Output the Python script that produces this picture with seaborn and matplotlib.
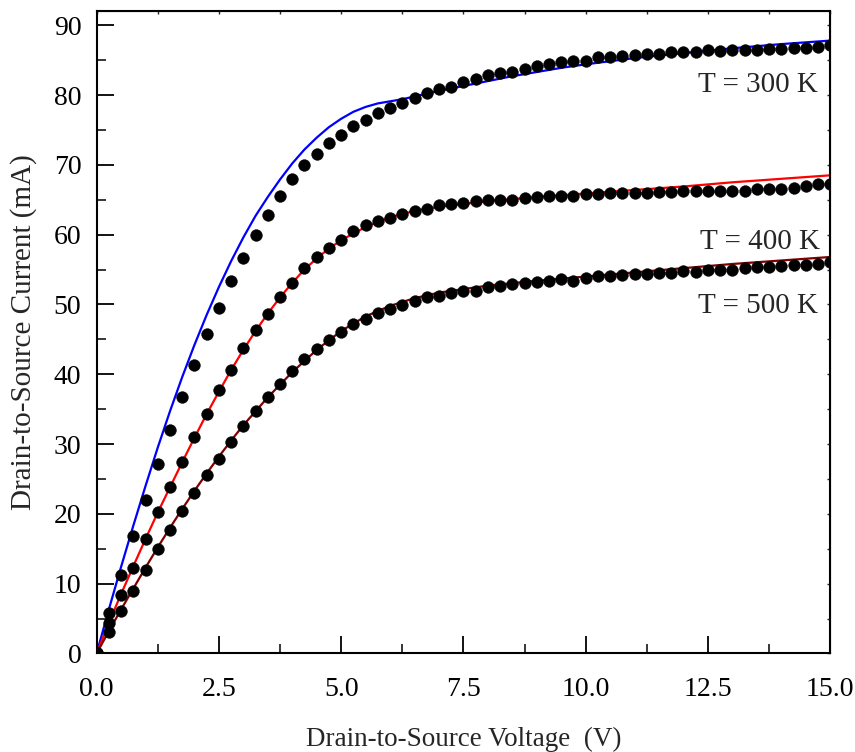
import numpy as np
import pandas as pd
import seaborn as sns
import matplotlib.pyplot as plt
from matplotlib.ticker import MultipleLocator, FormatStrFormatter, NullFormatter

# measured points (dots), sweep 0 -> 15 V in 0.25 V steps
vds_meas = np.arange(0, 15.001, 0.25)

ids_300 = [0.0,
           5.8, 11.3, 16.8, 22.0, 27.1, 32.0, 36.7, 41.3, 45.7, 49.5,
           53.4, 56.7, 59.9, 62.8, 65.5, 68.0, 70.0, 71.6, 73.1, 74.3,
           75.5, 76.4, 77.4, 78.1, 78.9, 79.6, 80.3, 80.9, 81.2, 81.8,
           82.3, 82.9, 83.1, 83.3, 83.8, 84.1, 84.5, 84.7, 84.9, 84.9,
           85.4, 85.4, 85.6, 85.8, 85.9, 85.9, 86.1, 86.1, 86.1, 86.4,
           86.3, 86.4, 86.4, 86.5, 86.6, 86.6, 86.8, 86.8, 86.9, 87.1]

ids_400 = [0.0,
           4.3, 8.4, 12.3, 16.4, 20.2, 23.8, 27.4, 31.0, 34.3, 37.7,
           40.6, 43.7, 46.3, 48.7, 51.1, 53.1, 55.2, 56.8, 58.1, 59.3,
           60.5, 61.4, 62.0, 62.4, 63.0, 63.4, 63.7, 64.2, 64.4, 64.5,
           64.8, 64.9, 65.0, 65.0, 65.3, 65.4, 65.5, 65.6, 65.6, 65.8,
           65.8, 65.9, 65.9, 66.0, 66.0, 66.1, 66.1, 66.2, 66.2, 66.3,
           66.3, 66.3, 66.3, 66.5, 66.5, 66.6, 66.7, 66.9, 67.2, 67.2]

ids_500 = [0.0,
           3.1, 6.1, 9.0, 11.9, 14.9, 17.7, 20.4, 23.0, 25.6, 27.9,
           30.3, 32.6, 34.7, 36.7, 38.6, 40.4, 42.2, 43.6, 44.9, 46.1,
           47.2, 47.9, 48.8, 49.3, 49.9, 50.5, 51.0, 51.2, 51.7, 51.9,
           52.0, 52.5, 52.6, 52.9, 53.1, 53.2, 53.4, 53.7, 53.4, 53.8,
           54.1, 54.1, 54.2, 54.3, 54.4, 54.5, 54.5, 54.8, 54.7, 54.9,
           55.0, 55.0, 55.2, 55.4, 55.4, 55.5, 55.7, 55.7, 55.8, 56.1]

# model curves (solid lines)
vds_300 = [0, 0.25, 0.5, 0.75, 1.0, 1.25, 1.5, 1.75, 2.0, 2.25, 2.5, 2.75, 3.0,
           3.25, 3.5, 3.75, 4.0, 4.25, 4.5, 4.75, 5.0, 5.25, 5.5, 5.75, 6.0,
           6.25, 6.5, 7.0, 7.5, 8.0, 8.5, 9.0, 9.5, 10, 11, 12, 13, 14, 15]
fit_300 = [0, 6.3, 12.4, 18.3, 24.0, 29.5, 34.7, 39.6, 44.2, 48.5, 52.5, 56.2, 59.6,
           62.7, 65.4, 67.9, 70.2, 72.2, 73.9, 75.4, 76.6, 77.6, 78.3, 78.8, 79.1,
           79.4, 79.8, 80.6, 81.3, 82.0, 82.7, 83.3, 83.9, 84.4, 85.3, 86.0, 86.7,
           87.3, 87.8]

vds_400 = [0, 0.25, 0.5, 0.75, 1.0, 1.25, 1.5, 1.75, 2.0, 2.25, 2.5, 2.75, 3.0,
           3.25, 3.5, 3.75, 4.0, 4.25, 4.5, 4.75, 5.0, 5.5, 6.0, 6.5, 7.0, 8.0,
           9.0, 10, 11, 12, 13, 14, 15]
fit_400 = [0, 4.4, 8.5, 12.5, 16.4, 20.2, 23.8, 27.4, 30.9, 34.3, 37.5, 40.6, 43.5,
           46.2, 48.7, 51.0, 53.1, 55.0, 56.6, 58.0, 59.2, 61.1, 62.5, 63.4, 64.0,
           64.8, 65.4, 65.9, 66.4, 66.9, 67.5, 68.0, 68.5]

vds_500 = [0, 0.25, 0.5, 0.75, 1.0, 1.25, 1.5, 1.75, 2.0, 2.25, 2.5, 2.75, 3.0,
           3.5, 4.0, 4.5, 5.0, 5.5, 6.0, 6.5, 7.0, 8.0, 9.0, 10, 11, 12, 13, 14, 15]
fit_500 = [0, 3.2, 6.3, 9.3, 12.3, 15.2, 18.0, 20.7, 23.3, 25.8, 28.2, 30.5, 32.7,
           36.7, 40.3, 43.5, 46.2, 48.3, 49.8, 50.9, 51.7, 52.7, 53.4, 54.0, 54.6,
           55.2, 55.8, 56.3, 56.8]

line_colours = {"300 K": "#0000ff", "400 K": "#ff0000", "500 K": "#800000"}

fit_df = pd.concat([
    pd.DataFrame({"vds": vds_300, "ids": fit_300, "temp": "300 K"}),
    pd.DataFrame({"vds": vds_400, "ids": fit_400, "temp": "400 K"}),
    pd.DataFrame({"vds": vds_500, "ids": fit_500, "temp": "500 K"}),
])
meas_df = pd.concat([
    pd.DataFrame({"vds": vds_meas, "ids": ids_300, "temp": "300 K"}),
    pd.DataFrame({"vds": vds_meas, "ids": ids_400, "temp": "400 K"}),
    pd.DataFrame({"vds": vds_meas, "ids": ids_500, "temp": "500 K"}),
])

sns.set_style("ticks")
plt.rcParams["font.family"] = ["Liberation Serif", "DejaVu Serif"]

fig = plt.figure(figsize=(8.55, 7.52), dpi=100)
ax = fig.add_axes([0.113, 0.131, 0.858, 0.854])

sns.lineplot(data=fit_df, x="vds", y="ids", hue="temp", palette=line_colours,
             estimator=None, sort=False, linewidth=1.6, legend=False, ax=ax, zorder=2)
sns.scatterplot(data=meas_df, x="vds", y="ids", color="black", s=72,
                edgecolor="black", linewidth=0.3, legend=False, ax=ax, zorder=3)

ax.set_xlim(0, 15)
ax.set_ylim(0, 92)
ax.xaxis.set_major_locator(MultipleLocator(2.5))
ax.xaxis.set_minor_locator(MultipleLocator(1.25))
ax.xaxis.set_major_formatter(FormatStrFormatter("%.1f"))
ax.yaxis.set_major_locator(MultipleLocator(10))
ax.yaxis.set_minor_locator(MultipleLocator(5))

ax.tick_params(which="major", direction="in", length=12, width=1.3,
               labelsize=20, colors="black")
ax.tick_params(axis="x", which="major", pad=17)
ax.tick_params(axis="y", which="major", pad=11)
ax.tick_params(which="minor", direction="in", length=6.5, width=1.3)
for s in ax.spines.values():
    s.set_linewidth(1.5)
    s.set_color("black")

# short ticks on top and right
secx = ax.secondary_xaxis("top")
secx.xaxis.set_major_locator(MultipleLocator(1.25))
secx.xaxis.set_major_formatter(NullFormatter())
secx.tick_params(direction="in", length=2.5, width=1.0)
secy = ax.secondary_yaxis("right")
secy.yaxis.set_major_locator(MultipleLocator(5))
secy.yaxis.set_major_formatter(NullFormatter())
secy.tick_params(direction="in", length=2.5, width=1.0)

ax.set_xlabel("Drain-to-Source Voltage  (V)", fontsize=19.5, labelpad=18)
ax.set_ylabel("Drain-to-Source Current (mA)", fontsize=21, labelpad=12)

ax.text(14.75, 81.5, "T = 300 K", ha="right", va="center", fontsize=21)
ax.text(14.8, 59.0, "T = 400 K", ha="right", va="center", fontsize=21)
ax.text(14.75, 49.8, "T = 500 K", ha="right", va="center", fontsize=21)

plt.savefig("out.png", dpi=100)
